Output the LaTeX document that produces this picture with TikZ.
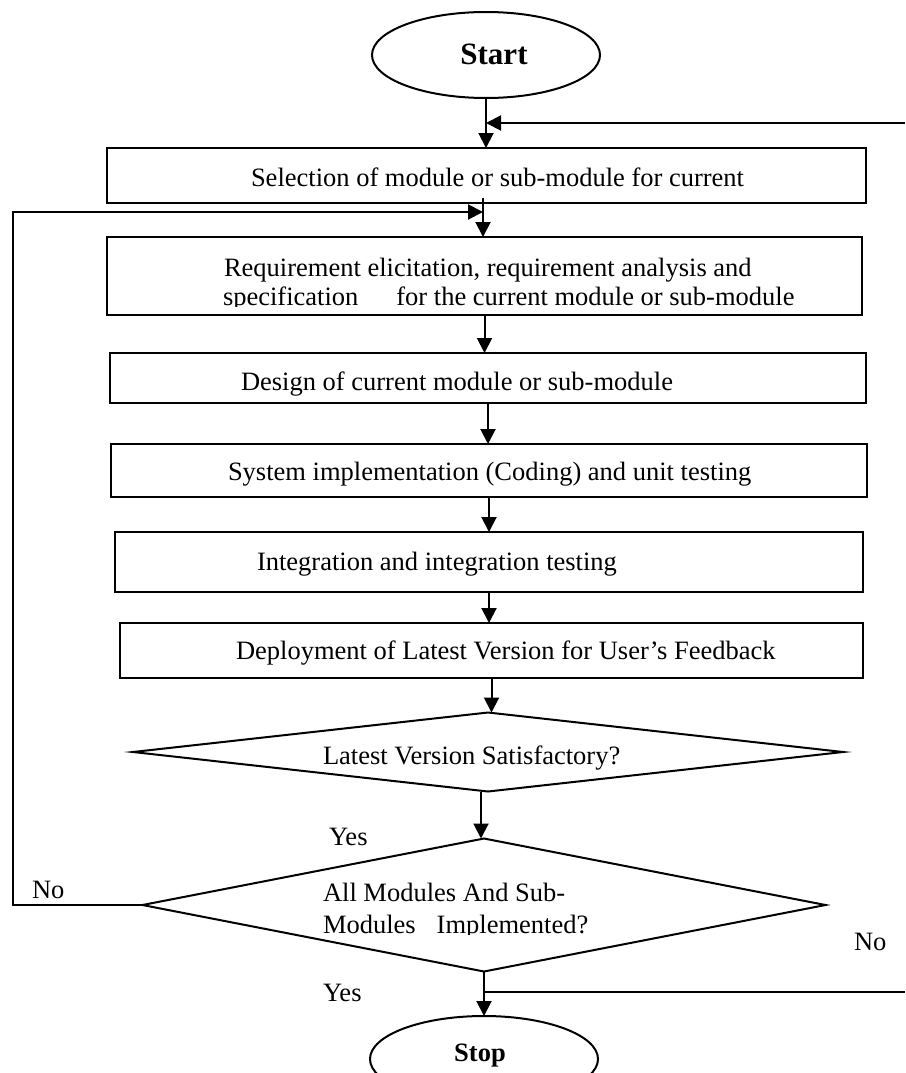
\documentclass[tikz,border=0pt]{standalone}
\usepackage{fontspec}
\setmainfont{Liberation Serif}
\usetikzlibrary{shapes.geometric,arrows.meta}
\begin{document}
\begin{tikzpicture}[x=1pt,y=-1pt,
  every node/.style={inner sep=0pt,outer sep=0pt},
  stepbox/.style={draw,line width=2pt,rectangle},
  decision/.style={draw,line width=2pt,diamond},
  terminal/.style={draw,line width=2pt,ellipse,minimum width=228pt,minimum height=86pt},
  txt/.style={anchor=base west,font=\fontsize{26.5}{31}\selectfont},
  flow/.style={line width=2pt,-{Triangle[length=15pt,width=15pt]}},
  plain/.style={line width=2pt}]
\clip (0,0) rectangle (905,1073);

% terminals
\node[terminal] (start) at (486,55) {};
\node[anchor=base,font=\fontsize{31}{36}\selectfont\bfseries] (startT) at (494,65) {Start};
\node[terminal] (stop) at (484,1059) {};
\node[anchor=base,font=\fontsize{26.5}{31}\selectfont\bfseries] (stopT) at (480,1061) {Stop};

% process boxes
\node[stepbox,minimum width=759pt,minimum height=55pt] (b1) at (486.5,175.5) {};
\node[stepbox,minimum width=755pt,minimum height=78pt] (b2) at (484.5,276) {};
\node[stepbox,minimum width=756pt,minimum height=50pt] (b3) at (488,378) {};
\node[stepbox,minimum width=756pt,minimum height=53pt] (b4) at (489,470.5) {};
\node[stepbox,minimum width=748pt,minimum height=60pt] (b5) at (489,562) {};
\node[stepbox,minimum width=743pt,minimum height=55pt] (b6) at (491.5,650.5) {};

% decisions
\node[decision,minimum width=710pt,minimum height=79pt] (d1) at (488,752) {};
\node[decision,minimum width=683pt,minimum height=133pt] (d2) at (484,905) {};

% box texts
\node[txt] (t1) at (251,186) {Selection of module or sub-module for current};
\node[txt] (t2a) at (224,276) {Requirement elicitation, requirement analysis and};
\begin{scope}
  \clip (100,240) rectangle (870,306.5);
  \node[txt] (t2b) at (223,305) {specification\hspace{38pt}for the current module or sub-module};
\end{scope}
\node[txt] (t3) at (241,390) {Design of current module or sub-module};
\node[txt] (t4) at (228,480) {System implementation (Coding) and unit testing};
\node[txt] (t5) at (257,570) {Integration and integration testing};
\node[txt] (t6) at (236,659) {Deployment of Latest Version for User’s Feedback};
\node[txt] (t7) at (323,764) {Latest Version Satisfactory?};
\node[txt] (t8a) at (323,901) {All Modules And Sub-};
\begin{scope}
  \clip (300,910) rectangle (700,934);
  \node[txt] (t8b) at (323,933) {Modules\hspace{21pt}Implemented?};
\end{scope}

% branch labels
\node[txt] (yes1) at (329,845) {Yes};
\node[txt] (no1) at (32,898) {No};
\node[txt] (no2) at (854,950) {No};
\node[txt] (yes2) at (323,1001) {Yes};

% helper points
\coordinate (retTop) at (905,123);
\coordinate (retBot) at (905,992);
\coordinate (join) at (483,212);
\coordinate (loopL) at (13,212);

% main flow
\draw[flow] (start.south) -- (start.south |- b1.north);
\draw[flow] (retTop) -- (retTop -| start.south);
\draw[flow] ([yshift=5pt]b1.south -| join) -- (join |- b2.north);
\draw[flow] (b2.south) -- (b2.south |- b3.north);
\draw[flow] (b3.south) -- (b3.south |- b4.north);
\draw[flow] (b4.south) -- (b4.south |- b5.north);
\draw[flow] (b5.south) -- (b5.south |- b6.north);
\draw[flow] (b6.south) -- (b6.south |- d1.north);
\draw[flow] ([xshift=-3pt]d2.north |- d1.south) -- ([xshift=-3pt]d2.north);
\draw[flow] (d2.south) -- (stop.north);

% loops back
\draw[flow] (d2.west) -- (d2.west -| loopL) -- (loopL) -- (join);
\draw[plain] (retBot -| d2.south) -- (retBot);
\end{tikzpicture}
\end{document}
